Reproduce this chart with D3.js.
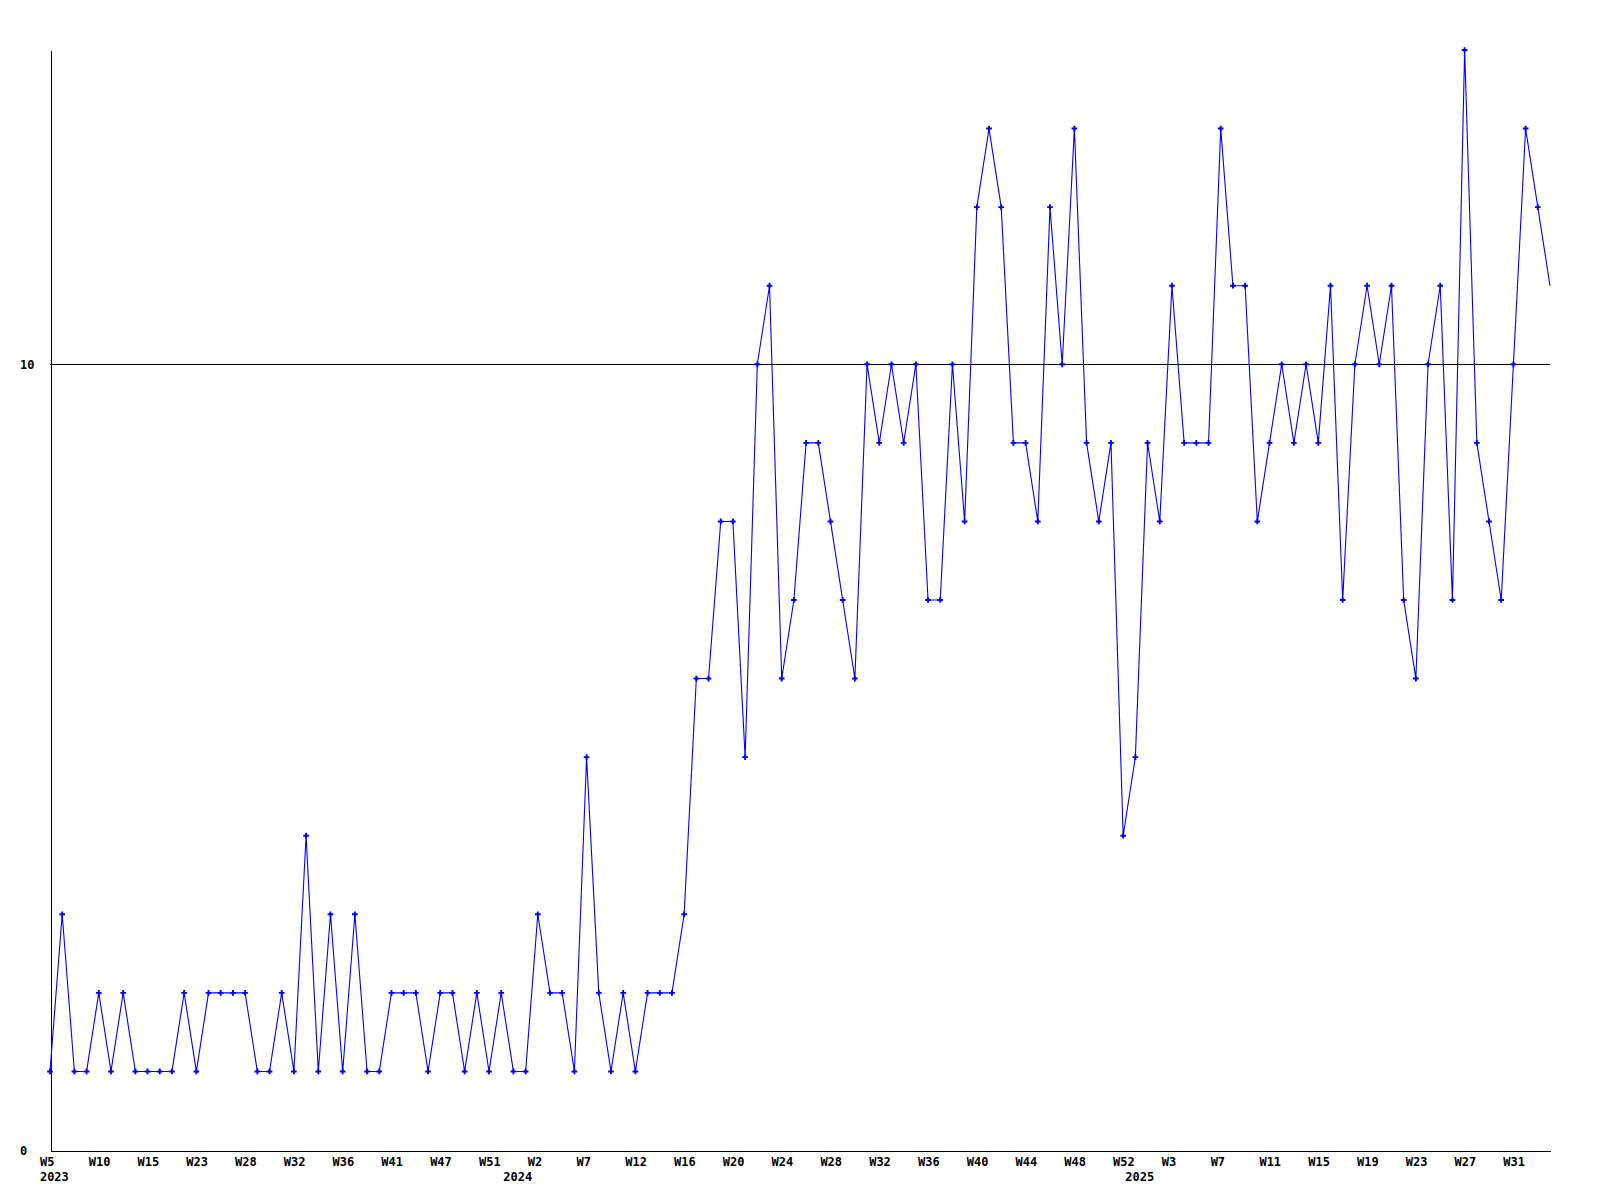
<!DOCTYPE html>
<html>
<head>
<meta charset="utf-8">
<script src="https://cdn.jsdelivr.net/npm/d3@7"></script>
<style>
  html, body { margin: 0; padding: 0; background: #ffffff; }
  svg { display: block; }
  .lbl text { font-family: "DejaVu Sans Mono", "Liberation Mono", monospace; font-weight: bold; font-size: 12px; fill: #000; }
</style>
</head>
<body>
<script>
// ---- data ----
// weekly values, one per point, in order
const values = [
  1, 3, 1, 1, 2, 1, 2, 1, 1, 1,
  1, 2, 1, 2, 2, 2, 2, 1, 1, 2,
  1, 4, 1, 3, 1, 3, 1, 1, 2, 2,
  2, 1, 2, 2, 1, 2, 1, 2, 1, 1,
  3, 2, 2, 1, 5, 2, 1, 2, 1, 2,
  2, 2, 3, 6, 6, 8, 8, 5, 10, 11,
  6, 7, 9, 9, 8, 7, 6, 10, 9, 10,
  9, 10, 7, 7, 10, 8, 12, 13, 12, 9,
  9, 8, 12, 10, 13, 9, 8, 9, 4, 5,
  9, 8, 11, 9, 9, 9, 13, 11, 11, 8,
  9, 10, 9, 10, 9, 11, 7, 10, 11, 10,
  11, 7, 6, 10, 11, 7, 14, 9, 8, 7,
  10, 13, 12, 11
];
// week tick labels, shown on every 4th point
const weekTickLabels = [
  "W5", "W10", "W15", "W23", "W28", "W32", "W36", "W41", "W47", "W51",
  "W2", "W7", "W12", "W16", "W20", "W24", "W28", "W32", "W36", "W40",
  "W44", "W48", "W52", "W3", "W7", "W11", "W15", "W19", "W23", "W27", "W31"
];
const weekTickStep = 4;
// year labels and the point index where each year starts
const years = ["2023", "2024", "2025"];
const yearStartIndex = [0, 38, 89];
// y-axis
const yTickValues = [0, 10];
const yMax = 14;
const referenceValue = 10;

// ---- layout ----
const W = 1600, H = 1200;
const mLeft = 50, mRight = 1550, mTop = 50, mBottom = 1150;
const labelDx = -10.6;
const font = '"DejaVu Sans Mono", "Liberation Mono", monospace';

const svg = d3.select("body").append("svg")
  .attr("width", W).attr("height", H)
  .attr("viewBox", `0 0 ${W} ${H}`);

const x = d3.scaleLinear().domain([0, values.length - 1]).range([mLeft, mRight]);
const y = d3.scaleLinear().domain([0, yMax]).range([mBottom, mTop]);

// reference line at 10
svg.append("line")
  .attr("x1", mLeft).attr("x2", mRight)
  .attr("y1", Math.round(y(referenceValue)) + 0.5).attr("y2", Math.round(y(referenceValue)) + 0.5)
  .attr("stroke", "#000").attr("stroke-width", 1)
  .attr("shape-rendering", "crispEdges");

// x axis (week labels)
const weekTicks = weekTickLabels.map((_, i) => i * weekTickStep);
const xAxis = d3.axisBottom(x)
  .tickValues(weekTicks)
  .tickFormat((d, i) => weekTickLabels[i])
  .tickSize(0).tickSizeOuter(0);
const gx = svg.append("g").attr("class", "lbl")
  .attr("transform", `translate(0,${mBottom + 0.5})`)
  .call(xAxis);
gx.select(".domain").attr("stroke", "#000").attr("shape-rendering", "crispEdges");
gx.selectAll("text")
  .attr("text-anchor", "start")
  .attr("x", labelDx)
  .attr("y", 15.5).attr("dy", null)
  .style("font-family", font).style("font-weight", "bold").style("font-size", "12px");

// year labels
const yearAxis = d3.axisBottom(x)
  .tickValues(yearStartIndex)
  .tickFormat((d, i) => years[i])
  .tickSize(0).tickSizeOuter(0);
const gYear = svg.append("g").attr("class", "lbl")
  .attr("transform", `translate(0,${mBottom + 0.5})`)
  .call(yearAxis);
gYear.select(".domain").remove();
gYear.selectAll("text")
  .attr("text-anchor", "start")
  .attr("x", labelDx)
  .attr("y", 30.5).attr("dy", null)
  .style("font-family", font).style("font-weight", "bold").style("font-size", "12px");

// y axis
const yAxis = d3.axisLeft(y).tickValues(yTickValues).tickFormat(d3.format("d"))
  .tickSize(0).tickSizeOuter(0);
const gy = svg.append("g").attr("class", "lbl")
  .attr("transform", `translate(${mLeft + 0.5},0)`)
  .call(yAxis);
gy.select(".domain").attr("stroke", "#000").attr("shape-rendering", "crispEdges");
gy.selectAll("text")
  .attr("text-anchor", "start")
  .attr("x", 20 - mLeft - 0.5)
  .attr("dy", "0.36em")
  .style("font-family", font).style("font-weight", "bold").style("font-size", "12px");

// series line
const line = d3.line().x((d, i) => x(i)).y(d => y(d));
svg.append("path")
  .datum(values)
  .attr("d", line)
  .attr("fill", "none")
  .attr("stroke", "#0000ff")
  .attr("stroke-width", 1.1);

// point markers (the final point sits on the plot edge and is unmarked in the reference)
const marker = d3.symbol().type(d3.symbolCross).size(18);
svg.append("g")
  .selectAll("path")
  .data(values.slice(0, values.length - 1))
  .join("path")
  .attr("transform", (d, i) => `translate(${x(i)},${y(d)})`)
  .attr("d", marker)
  .attr("fill", "#0000ff");
</script>
</body>
</html>
